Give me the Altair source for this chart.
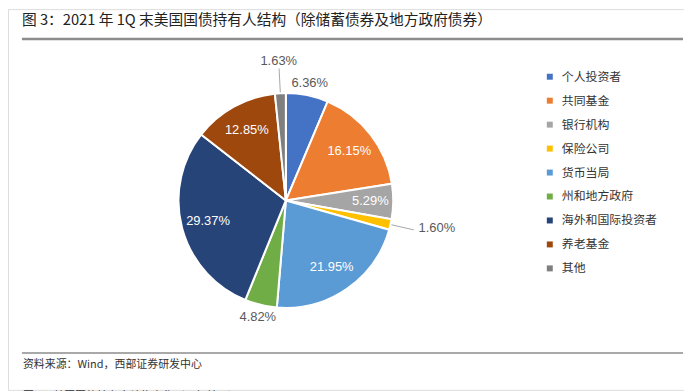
import altair as alt
import pandas as pd

# ---- data ----
categories = ["个人投资者", "共同基金", "银行机构", "保险公司", "货币当局",
              "州和地方政府", "海外和国际投资者", "养老基金", "其他"]
shares = [6.36, 16.15, 5.29, 1.60, 21.95, 4.82, 29.37, 12.85, 1.63]
colors = ["#4472C4", "#ED7D31", "#A5A5A5", "#FFC000", "#5B9BD5",
          "#70AD47", "#264478", "#9E480E", "#7F7F7F"]
title_text = "图 3：2021 年 1Q 末美国国债持有人结构（除储蓄债券及地方政府债券）"
source_text = "资料来源：Wind，西部证券研发中心"
next_text = "图 4：美国国债持有人结构变化（万亿美元）"

df = pd.DataFrame({"cat": categories, "v": shares, "idx": list(range(len(categories)))})

W, H = 680, 383
CX, CY, R = 279.5, 192.5, 108
CJK = "Noto Sans CJK SC"
NUM = "Liberation Sans"

base = alt.Chart(df)

pie = base.mark_arc(outerRadius=R, stroke="white", strokeWidth=2).encode(
    theta=alt.Theta("v:Q", stack=True),
    order=alt.Order("idx:Q"),
    color=alt.Color("cat:N", sort=categories,
                    scale=alt.Scale(domain=categories, range=colors),
                    legend=alt.Legend(title=None, orient="none", legendX=539, legendY=62,
                                      symbolType="square", symbolSize=36, symbolStrokeWidth=0,
                                      labelFont=CJK, labelFontSize=12, labelColor="#333333",
                                      labelOffset=6, rowPadding=12.1, direction="vertical")),
    x=alt.value(CX), y=alt.value(CY),
)

angles = base.transform_joinaggregate(total="sum(v)").transform_window(
    cum="sum(v)", sort=[alt.SortField("idx")], frame=[None, 0]
).transform_calculate(
    mid="(datum.cum - datum.v/2) / datum.total * 2 * PI",
    lbl="format(datum.v, '.2f') + '%'",
)


def label_layer(cats, r, color, align="center", dy=0):
    return angles.transform_filter(
        alt.FieldOneOfPredicate(field="cat", oneOf=cats)
    ).transform_calculate(
        px=f"{CX} + {r} * sin(datum.mid)", py=f"{CY} - {r} * cos(datum.mid)"
    ).mark_text(font=NUM, fontSize=13, color=color, align=align,
                baseline="middle", dy=dy).encode(
        x=alt.X("px:Q", scale=None), y=alt.Y("py:Q", scale=None), text="lbl:N")


inside = label_layer(["共同基金", "货币当局", "海外和国际投资者", "养老基金"], 81, "white")
inside2 = label_layer(["银行机构"], 85, "white")
outside = label_layer(["个人投资者", "州和地方政府"], 121, "#595959")
top_lbl = label_layer(["其他"], 140, "#595959")
side_lbl = label_layer(["保险公司"], 137, "#595959", align="left", dy=-3)


def leader(cat, r1, r2):
    return angles.transform_filter(alt.datum.cat == cat).transform_calculate(
        r1=str(r1), r2=str(r2)
    ).transform_fold(["r1", "r2"], as_=["k", "r"]).transform_calculate(
        px=f"{CX} + datum.r * sin(datum.mid)", py=f"{CY} - datum.r * cos(datum.mid)"
    ).mark_line(color="#A6A6A6", strokeWidth=1).encode(
        x=alt.X("px:Q", scale=None), y=alt.Y("py:Q", scale=None), detail="cat:N")


lead1 = leader("其他", 109, 133)
lead2 = leader("保险公司", 109, 132)

txt = pd.DataFrame({"t": [title_text, source_text, next_text]})
title = alt.Chart(txt).transform_filter(alt.datum.t == title_text).mark_text(
    font=CJK, fontSize=14.8, color="#222222", align="left", baseline="middle"
).encode(text="t:N", x=alt.value(14), y=alt.value(12))
source = alt.Chart(txt).transform_filter(alt.datum.t == source_text).mark_text(
    font=CJK, fontSize=11, color="#333333", align="left", baseline="middle"
).encode(text="t:N", x=alt.value(15), y=alt.value(358))
nxt = alt.Chart(txt).transform_filter(alt.datum.t == next_text).mark_text(
    font=CJK, fontSize=11, color="#333333", align="left", baseline="top"
).encode(text="t:N", x=alt.value(15), y=alt.value(384))

rule_top = alt.Chart(txt).transform_filter(alt.datum.t == title_text).mark_rule(
    color="#8C8C8C", strokeWidth=2.5
).encode(x=alt.value(14), x2=alt.value(679), y=alt.value(30))
rule_bot = alt.Chart(txt).transform_filter(alt.datum.t == source_text).mark_rule(
    color="#8C8C8C", strokeWidth=1.5
).encode(x=alt.value(14), x2=alt.value(679), y=alt.value(346))

chart = alt.layer(
    pie, lead1, lead2, inside, inside2, outside, top_lbl, side_lbl,
    title, rule_top, rule_bot, source, nxt
).properties(
    width=W, height=H, padding=0, autosize=alt.AutoSizeParams(type="none")
).configure_view(stroke=None).configure(background="white")

chart.save("out.html", embed_options={"renderer": "svg", "actions": False})
